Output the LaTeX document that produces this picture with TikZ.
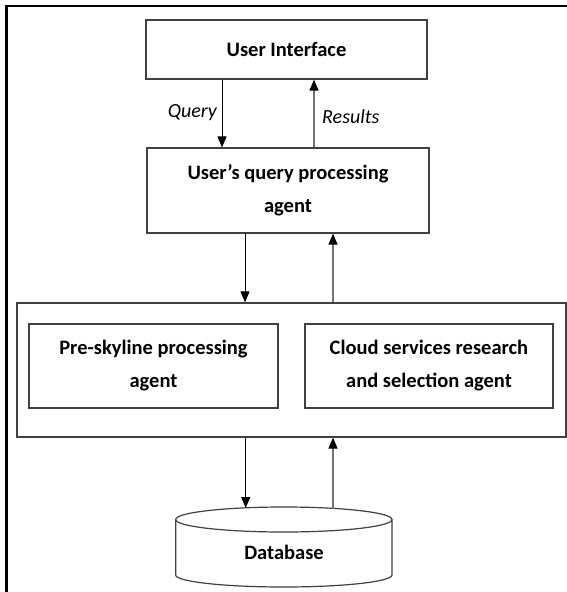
\documentclass[tikz,border=0pt]{standalone}
\usepackage{fontspec}
\setmainfont{Carlito}
\usetikzlibrary{arrows.meta}
\tikzset{
  boxline/.style={draw=black!75, line width=1.2pt},
  blockbox/.style={boxline, rectangle, inner sep=0pt, align=center,
    font=\bfseries\fontsize{20.5}{33}\selectfont},
  lbl/.style={font=\itshape\fontsize{20}{24}\selectfont, inner sep=0pt},
  down/.style={draw=black, line width=1pt, -{Triangle[length=11pt,width=9pt]}},
  up/.style={draw=black!55, line width=1.3pt, -{Triangle[length=11pt,width=9pt,fill=black,color=black]}},
}
\begin{document}
\begin{tikzpicture}[x=1pt,y=-1pt]
\useasboundingbox (0,0) rectangle (567,592);
% frame (top and left edges)
\draw[line width=2.5pt, line cap=rect] (567,6) -- (6.7,6) -- (6.7,592);

\node[blockbox, minimum width=281pt, minimum height=59pt] (ui) at (286.5,49.5) {User Interface};
\node[blockbox, minimum width=282pt, minimum height=85pt] (qp) at (288,190.5) {User’s query processing\\agent};
\node[boxline, rectangle, inner sep=0pt, minimum width=549pt, minimum height=134pt] (cont) at (291.5,370) {};
\node[blockbox, minimum width=249pt, minimum height=84pt] (pre) at (153.5,366) {Pre-skyline processing\\agent};
\node[blockbox, minimum width=248pt, minimum height=84pt] (cloud) at (429,366) {Cloud services research\\and selection agent};

% database cylinder
\draw[boxline, fill=white] (175.7,519.5) -- (175.7,575) arc[start angle=180, end angle=360, x radius=108.15pt, y radius=12pt] -- (392,519.5);
\draw[boxline] (283.85,519.5) ellipse[x radius=108.15pt, y radius=12.5pt];
\node[font=\bfseries\fontsize{20.5}{24}\selectfont, inner sep=0pt] (db) at (284,552) {Database};
\coordinate (dbin) at (245.7,508);
\coordinate (dbout) at (333,508.5);

% connectors
\draw[down] (222,0 |- ui.south) -- (222,0 |- qp.north);
\draw[up] (314,0 |- qp.north) -- (314,0 |- ui.south);
\node[lbl, anchor=east] (qlbl) at (217,113) {Query};
\node[lbl, anchor=west] (rlbl) at (322,117) {Results};

\draw[down] (245,0 |- qp.south) -- (245,0 |- cont.north);
\draw[up] (333,0 |- cont.north) -- (333,0 |- qp.south);

\draw[down] (cont.south -| dbin) -- (dbin);
\draw[up] (dbout) -- (cont.south -| dbout);
\end{tikzpicture}
\end{document}
